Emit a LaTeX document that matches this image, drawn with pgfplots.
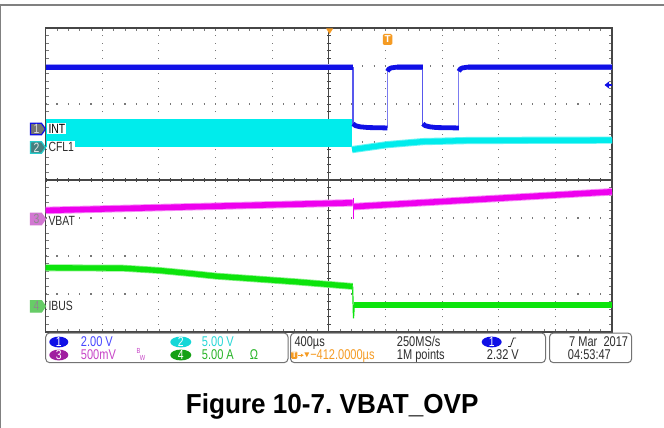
\documentclass[border=0pt]{standalone}
\usepackage{pgfplots}
\pgfplotsset{compat=1.18}
\usetikzlibrary{arrows.meta}
\usepackage{fontspec}
\setmainfont{Liberation Sans}
\newfontfamily\scopefont[FakeStretch=0.78]{Liberation Sans}
\definecolor{chblue}{RGB}{16,16,230}
\definecolor{chcyan}{RGB}{0,236,236}
\definecolor{chmag}{RGB}{238,0,238}
\definecolor{chgreen}{RGB}{12,228,12}
\definecolor{sorange}{RGB}{245,155,35}
\definecolor{gridc}{RGB}{120,120,120}
\definecolor{framec}{RGB}{70,70,70}
\definecolor{txtc}{RGB}{45,45,45}
\definecolor{pblue}{RGB}{70,70,255}
\definecolor{pcyan}{RGB}{40,215,215}
\definecolor{pmag}{RGB}{200,70,200}
\definecolor{pgreen}{RGB}{40,180,40}
\definecolor{bpurple}{RGB}{160,30,160}
\definecolor{bgreen}{RGB}{20,160,20}
\definecolor{bcyan}{RGB}{20,215,215}
\tikzset{
  stx/.style={anchor=base west, inner sep=0pt, font=\scopefont\fontsize{10.6pt}{12pt}\selectfont},
  lab/.style={anchor=base west, inner sep=0.8pt, fill=white, font=\scopefont\fontsize{10pt}{11pt}\selectfont},
  bnum/.style={inner sep=0pt, font=\scopefont\fontsize{10pt}{10pt}\selectfont},
}
\begin{document}
\frenchspacing
\begin{tikzpicture}
\useasboundingbox (0,0) rectangle (498pt,-321pt);
\fill[white] (0,0) rectangle (498pt,-321pt);
\begin{scope}[x=0.75pt,y=-0.75pt]
\draw[black!50, line width=1.3pt] (0,4.7) -- (664,4.7);
\draw[black!50, line width=0.8pt] (0.6,4) -- (0.6,428);
\end{scope}

\begin{axis}[
  at={(34.275pt,-249pt)}, anchor=south west,
  width=424.725pt, height=228pt, scale only axis,
  xmin=0, xmax=10, ymin=0, ymax=8,
  xtick={0,...,10}, ytick={0,...,8},
  minor x tick num=4, minor y tick num=4,
  xticklabels={}, yticklabels={},
  tick align=inside, major tick length=2.4pt, minor tick length=2.4pt,
  tick style={color=gridc, line width=0.6pt},
  axis line style={draw=framec, line width=0.9pt},
  grid=major,
  major x grid style={draw=gridc, line width=0.8pt, dash pattern=on 0.8pt off 4.9pt, dash phase=0.4pt},
  major y grid style={draw=gridc, line width=0.8pt, dash pattern=on 0.8pt off 7.6945pt, dash phase=0.4pt},
]
% center cross
\draw[framec, line width=0.8pt] (axis cs:5,0) -- (axis cs:5,8);
\draw[framec, line width=3pt, dash pattern=on 0.6pt off 5.1pt, dash phase=0.3pt] (axis cs:5,0) -- (axis cs:5,8);
\draw[framec, line width=0.8pt] (axis cs:0,4) -- (axis cs:10,4);
\draw[framec, line width=3pt, dash pattern=on 0.6pt off 7.8945pt, dash phase=0.3pt] (axis cs:0,4) -- (axis cs:10,4);

% CFL1 (cyan)
\addplot[draw=none, fill=chcyan, mark=none] coordinates {(0,4.87) (5.41,4.87) (5.41,5.61) (0,5.61)};
\addplot[chcyan!60, line width=5.4pt, mark=none, line join=round] coordinates {(5.41,4.80) (5.6,4.84) (6.03,4.93) (6.66,5.01) (7.5,5.04) (10,5.05)};
\addplot[chcyan, line width=4.0pt, mark=none, line join=round] coordinates {(5.41,4.80) (5.6,4.84) (6.03,4.93) (6.66,5.01) (7.5,5.04) (10,5.05)};

% INT (blue)
\addplot[chblue!70, line width=0.9pt, mark=none] coordinates {(5.427,6.97) (5.427,5.45)};
\addplot[chblue!55, line width=0.9pt, mark=none] coordinates {(6.035,5.37) (6.035,6.9)};
\addplot[chblue!70, line width=0.9pt, mark=none] coordinates {(6.66,6.97) (6.66,5.45)};
\addplot[chblue!55, line width=0.9pt, mark=none] coordinates {(7.295,5.37) (7.295,6.9)};
\addplot[chblue!40, line width=4.8pt, mark=none] coordinates {(0,6.97) (5.427,6.97)};
\addplot[chblue!40, line width=4.8pt, mark=none] coordinates {(6.2,6.97) (6.66,6.97)};
\addplot[chblue!40, line width=4.8pt, mark=none] coordinates {(7.45,6.97) (10,6.97)};
\addplot[chblue, line width=3.6pt, mark=none, line join=round] coordinates {(0,6.97) (5.427,6.97)};
\addplot[chblue, line width=3.6pt, mark=none, line join=round] coordinates {(5.427,5.48) (5.47,5.43) (5.55,5.40) (5.7,5.38) (6.035,5.37)};
\addplot[chblue, line width=3.6pt, mark=none, line join=round] coordinates {(6.035,6.86) (6.06,6.92) (6.1,6.95) (6.2,6.97) (6.66,6.97)};
\addplot[chblue, line width=3.6pt, mark=none, line join=round] coordinates {(6.66,5.48) (6.70,5.43) (6.78,5.40) (6.9,5.38) (7.295,5.37)};
\addplot[chblue, line width=3.6pt, mark=none, line join=round] coordinates {(7.295,6.86) (7.32,6.92) (7.36,6.95) (7.45,6.97) (10,6.97)};

% VBAT (magenta)
\addplot[chmag, line width=0.9pt, mark=none] coordinates {(5.43,3.53) (5.43,2.97)};
\addplot[chmag!45, line width=5.6pt, mark=none] coordinates {(0,3.20) (5.42,3.40)};
\addplot[chmag!45, line width=5.6pt, mark=none] coordinates {(5.44,3.30) (10,3.69)};
\addplot[chmag, line width=4.2pt, mark=none] coordinates {(0,3.20) (5.42,3.40)};
\addplot[chmag, line width=4.2pt, mark=none] coordinates {(5.44,3.30) (10,3.69)};

% IBUS (green)
\addplot[chgreen, line width=0.9pt, mark=none] coordinates {(5.42,1.20) (5.435,0.36) (5.45,0.71)};
\addplot[chgreen!50, line width=5.2pt, mark=none, line join=round] coordinates {(0,1.69) (1.36,1.68) (2.0,1.62) (2.56,1.54) (3.01,1.47) (3.68,1.40) (4.43,1.32) (5.01,1.25) (5.42,1.20)};
\addplot[chgreen!50, line width=5.2pt, mark=none] coordinates {(5.45,0.71) (10,0.71)};
\addplot[chgreen, line width=4.0pt, mark=none, line join=round] coordinates {(0,1.69) (1.36,1.68) (2.0,1.62) (2.56,1.54) (3.01,1.47) (3.68,1.40) (4.43,1.32) (5.01,1.25) (5.42,1.20)};
\addplot[chgreen, line width=4.0pt, mark=none] coordinates {(5.45,0.71) (10,0.71)};
\end{axis}

\begin{scope}[x=0.75pt,y=-0.75pt]
% trigger markers
\fill[sorange] (326,28.3) -- (333.2,28.3) -- (329.6,34) -- cycle;
\fill[sorange, rounded corners=1pt] (382.8,34) rectangle (392.3,45);
\node[inner sep=0pt, text=white, font=\bfseries\fontsize{7.5pt}{8pt}\selectfont] at (387.55,39.5) {T};
\fill[chblue] (604.5,85) -- (609,81.5) -- (609,88.5) -- cycle;
\draw[chblue, line width=1.2pt] (608,85) -- (612,85);

% channel badges
\def\badge#1#2#3#4#5{%
  \filldraw[fill=#3, draw=#4, line width=0.9pt] (30.5,#1-5.7) -- (41.5,#1-5.7) -- (45.5,#1) -- (41.5,#1+5.7) -- (30.5,#1+5.7) -- cycle;
  \node[bnum, text=#5] at (36.5,#1) {#2};}
\badge{129}{1}{black!55}{chblue}{white!85!black}
\badge{147.5}{2}{teal!45!gray}{chcyan!70!gray}{white!90!black}
\badge{219}{3}{chmag!45!white!85!black}{chmag!45!white!85!black}{black!45}
\badge{306.3}{4}{chgreen!55!white!85!black}{chgreen!55!white!85!black}{black!45}
\node[lab, text=black] at (47.2,133.3) {INT};
\node[lab, text=txtc] at (47.2,151.7) {CFL1};
\node[lab, text=txtc] at (47.2,225.6) {VBAT};
\node[lab, text=txtc] at (47.2,310.7) {IBUS};

% info panel boxes
\draw[black!55, line width=0.75pt, rounded corners=3pt] (45.7,333) rectangle (288,362.7);
\draw[black!55, line width=0.75pt, rounded corners=3pt] (290.5,333) rectangle (545.5,362.7);
\draw[black!55, line width=0.75pt, rounded corners=3pt] (549.5,333) rectangle (631.7,362.7);

% box 1
\fill[chblue] (58.8,342) ellipse [x radius=9.5, y radius=5.4];
\node[bnum, text=white] at (58.8,342) {1};
\fill[bcyan] (180.8,342) ellipse [x radius=10.5, y radius=5.4];
\node[bnum, text=white] at (180.8,342) {2};
\fill[bpurple] (58.8,355) ellipse [x radius=9.5, y radius=5.4];
\node[bnum, text=white] at (58.8,355) {3};
\fill[bgreen] (180.8,355) ellipse [x radius=10.5, y radius=5.4];
\node[bnum, text=white] at (180.8,355) {4};
\node[stx, text=pblue] at (80.7,346.6) {2.00 V};
\node[stx, text=pcyan] at (201.7,346.6) {5.00 V};
\node[stx, text=pmag] at (80.7,359.6) {500mV};
\node[inner sep=0pt, text=pmag, font=\scopefont\fontsize{5.5pt}{5.5pt}\selectfont] at (138.6,350.8) {B};
\node[inner sep=0pt, text=pmag, font=\scopefont\fontsize{5.5pt}{5.5pt}\selectfont] at (142.6,357.6) {W};
\node[stx, text=pgreen] at (201.7,359.6) {5.00 A};
\node[stx, text=pgreen] at (249.5,359.6) {Ω};

% box 2
\node[stx, text=txtc] at (294.3,346.6) {400µs};
\node[stx, text=txtc] at (396.7,346.6) {250MS/s};
\fill[chblue] (491.7,342) ellipse [x radius=10, y radius=5.4];
\node[bnum, text=white] at (491.7,342) {1};
\draw[txtc, line width=0.6pt] (508,346.5) -- (510.5,346.5) -- (513.5,338) -- (516,338);
\fill[sorange, rounded corners=0.8pt] (291.2,351.5) rectangle (297.4,358.8);
\node[inner sep=0pt, text=white, font=\bfseries\fontsize{6pt}{6pt}\selectfont] at (294.3,355.2) {T};
\draw[sorange, line width=0.7pt, -{Stealth[length=2.2pt,width=2.6pt]}] (298.3,355.3) -- (303.6,355.3);
\fill[sorange] (304.4,352.4) -- (309.2,352.4) -- (306.8,357.2) -- cycle;
\node[stx, text=sorange] at (310,359.6) {−412.0000µs};
\node[stx, text=txtc] at (396.7,359.6) {1M points};
\node[stx, text=txtc] at (486.7,359.6) {2.32 V};

% box 3
\node[stx, anchor=base east, text=txtc] at (628.3,346.6) {7 Mar\ \ 2017};
\node[stx, text=txtc] at (567.7,359.6) {04:53:47};

% caption
\node[anchor=base, inner sep=0pt] at (332.2,413.3) {\scalebox{0.95}[1]{\fontsize{20.6pt}{24pt}\selectfont\bfseries Figure 10-7. VBAT\_OVP}};
\end{scope}
\end{tikzpicture}
\end{document}
